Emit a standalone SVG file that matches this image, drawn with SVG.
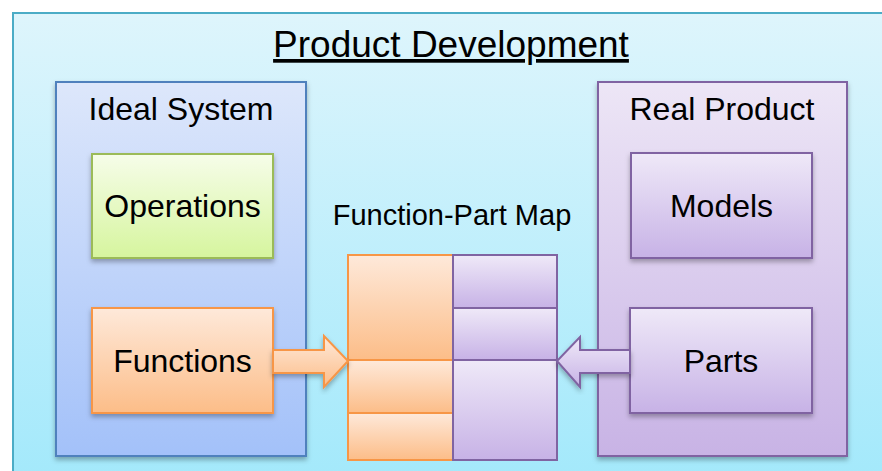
<svg xmlns="http://www.w3.org/2000/svg" width="882" height="471" viewBox="0 0 882 471">
  <defs>
    <linearGradient id="gBg" x1="0" y1="0" x2="0" y2="1">
      <stop offset="0" stop-color="#def5fc"/>
      <stop offset="1" stop-color="#9fe8fb"/>
    </linearGradient>
    <linearGradient id="gBlue" x1="0" y1="0" x2="0" y2="1">
      <stop offset="0" stop-color="#dde7fb"/>
      <stop offset="1" stop-color="#a3c1f9"/>
    </linearGradient>
    <linearGradient id="gLilacPanel" x1="0" y1="0" x2="0" y2="1">
      <stop offset="0" stop-color="#ede6f6"/>
      <stop offset="1" stop-color="#c8b3e5"/>
    </linearGradient>
    <linearGradient id="gGreen" x1="0" y1="0" x2="0" y2="1">
      <stop offset="0" stop-color="#f6fde9"/>
      <stop offset="1" stop-color="#d6f59e"/>
    </linearGradient>
    <linearGradient id="gOrange" x1="0" y1="0" x2="0" y2="1">
      <stop offset="0" stop-color="#fee9da"/>
      <stop offset="1" stop-color="#fcbd88"/>
    </linearGradient>
    <linearGradient id="gPurple" x1="0" y1="0" x2="0" y2="1">
      <stop offset="0" stop-color="#efe9f8"/>
      <stop offset="1" stop-color="#c7b2e6"/>
    </linearGradient>
    <filter id="shadow" x="-10%" y="-10%" width="120%" height="125%">
      <feDropShadow dx="0" dy="3" stdDeviation="2.5" flood-color="#000" flood-opacity="0.3"/>
    </filter>
  </defs>
  <style>
    text { font-family: "Liberation Sans", Arial, sans-serif; fill: #000; text-anchor: middle; }
    .title { font-size: 37px; text-decoration: underline; }
    .lbl { font-size: 32px; }
    .maplbl { font-size: 29px; }
    .frame { fill: url(#gBg); stroke: #4bacc6; stroke-width: 2; }
    .ideal { fill: url(#gBlue); stroke: #4f81bd; stroke-width: 2; filter: url(#shadow); }
    .real { fill: url(#gLilacPanel); stroke: #8064a2; stroke-width: 2; filter: url(#shadow); }
    .green { fill: url(#gGreen); stroke: #9bbb59; stroke-width: 2; filter: url(#shadow); }
    .orange { fill: url(#gOrange); stroke: #f79646; stroke-width: 2; }
    .purple { fill: url(#gPurple); stroke: #8064a2; stroke-width: 2; }
    .sh { filter: url(#shadow); }
  </style>

  <!-- background frame -->
  <rect class="frame" x="13" y="13" width="900" height="500"/>
  <text class="title" x="451" y="57">Product Development</text>

  <!-- left panel -->
  <g id="ideal-system">
    <rect class="ideal" x="56" y="82" width="250" height="374"/>
    <text class="lbl" x="181" y="120">Ideal System</text>
  </g>

  <!-- right panel -->
  <g id="real-product">
    <rect class="real" x="598" y="82" width="249" height="374"/>
    <text class="lbl" x="722" y="120">Real Product</text>
  </g>

  <g id="operations">
    <rect class="green" x="92" y="154" width="181" height="104"/>
    <text class="lbl" x="182.5" y="217">Operations</text>
  </g>

  <g id="functions">
    <rect class="orange sh" x="92" y="308" width="181" height="105"/>
    <text class="lbl" x="182.5" y="372">Functions</text>
  </g>

  <g id="models">
    <rect class="purple sh" x="631" y="153" width="181" height="105"/>
    <text class="lbl" x="721.5" y="217">Models</text>
  </g>

  <g id="parts">
    <rect class="purple sh" x="630" y="308" width="182" height="105"/>
    <text class="lbl" x="721" y="372">Parts</text>
  </g>

  <!-- function/part mapping grid -->
  <g id="function-part-map">
    <text class="maplbl" x="452" y="225">Function-Part Map</text>
    <rect class="orange" x="348" y="255" width="105" height="105"/>
    <rect class="orange" x="348" y="360" width="105" height="53"/>
    <rect class="orange" x="348" y="413" width="105" height="47"/>
    <rect class="purple" x="453" y="255" width="104" height="53"/>
    <rect class="purple" x="453" y="308" width="104" height="52"/>
    <rect class="purple" x="453" y="360" width="104" height="100"/>
  </g>

  <!-- block arrows into the map -->
  <g id="connectors">
    <polygon class="orange sh" points="273,350 324,350 324,336 348,361 324,387 324,373 273,373"/>
    <polygon class="purple sh" points="630,350 580,350 580,337 557,361 580,387 580,373 630,373"/>
  </g>
</svg>
